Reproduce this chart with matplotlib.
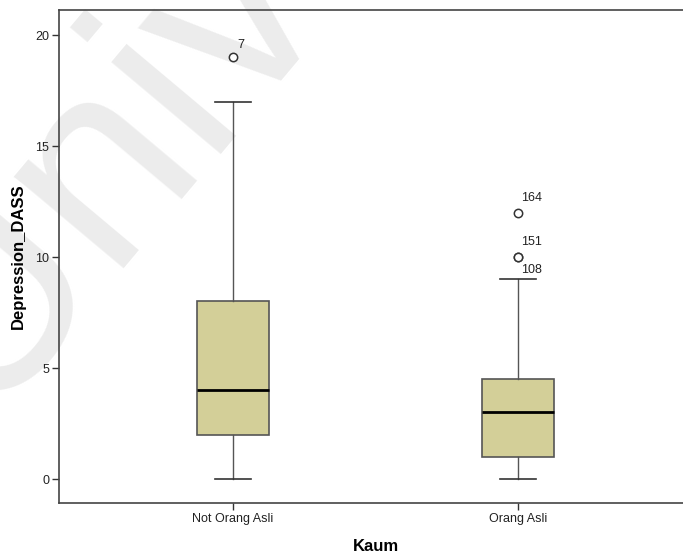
import matplotlib
matplotlib.use('Agg')
import matplotlib.pyplot as plt

plt.rcParams['font.family'] = ['Liberation Sans', 'DejaVu Sans']

# group summaries (Depression_DASS by Kaum)
groups = ['Not Orang Asli', 'Orang Asli']
q1 = [2, 1]
med = [4, 3]
q3 = [8, 4.5]
whis_lo = [0, 0]
whis_hi = [17, 9]
outliers = [[19], [12, 10, 10]]
outlier_ids = [['7'], ['164', '151', '108']]

stats = []
for i in range(len(groups)):
    stats.append(dict(med=med[i], q1=q1[i], q3=q3[i], whislo=whis_lo[i],
                      whishi=whis_hi[i], fliers=outliers[i], label=groups[i]))

fig = plt.figure(figsize=(6.83, 5.59), dpi=100)
ax = fig.add_axes([59/683, 1 - 503/559, 633/683, 493/559])

# faint background watermark, kept behind the axes
fig.text(-0.03, 0.255, 'University', fontsize=195, color='#ececec', rotation=50,
         rotation_mode='anchor', ha='left', va='baseline', zorder=-1)
ax.patch.set_alpha(0)

edge = '#555555'
ax.bxp(stats, positions=range(len(groups)), widths=0.25, patch_artist=True,
       boxprops=dict(facecolor='#d3cf98', edgecolor=edge, linewidth=1.2),
       medianprops=dict(color='black', linewidth=2),
       whiskerprops=dict(color=edge, linewidth=1),
       capprops=dict(color='#333333', linewidth=1.2),
       capwidths=0.125,
       flierprops=dict(marker='o', markersize=6, markerfacecolor='white',
                       markeredgecolor='#333333', markeredgewidth=1.1))

# case labels next to the outliers
offsets = {'7': (3.5, 4.5, 'bottom'), '164': (2, 6, 'bottom'),
           '151': (2, 6.5, 'bottom'), '108': (2, -5, 'top')}
for i in range(len(groups)):
    for v, lab in zip(outliers[i], outlier_ids[i]):
        dx, dy, va = offsets[lab]
        ax.annotate(lab, (i, v), xytext=(dx, dy), textcoords='offset points',
                    fontsize=9, color='#222222', va=va, ha='left')

ax.set_xlim(-0.61, 1.61)
ax.set_ylim(-1.08, 21.13)
ax.set_yticks([0, 5, 10, 15, 20])
ax.set_xticks(range(len(groups)))
ax.set_xticklabels(groups)
ax.tick_params(axis='both', length=5, width=1, color='#333333', labelsize=9,
               labelcolor='#222222', pad=2)
for s in ['left', 'top', 'bottom']:
    ax.spines[s].set_color('#444444')
    ax.spines[s].set_linewidth(1.2)
ax.spines['right'].set_visible(False)

ax.set_ylabel('Depression_DASS', fontsize=12, fontweight='bold', labelpad=7)
ax.set_xlabel('Kaum', fontsize=12, fontweight='bold', labelpad=10)

fig.savefig('out.png', dpi=100)
